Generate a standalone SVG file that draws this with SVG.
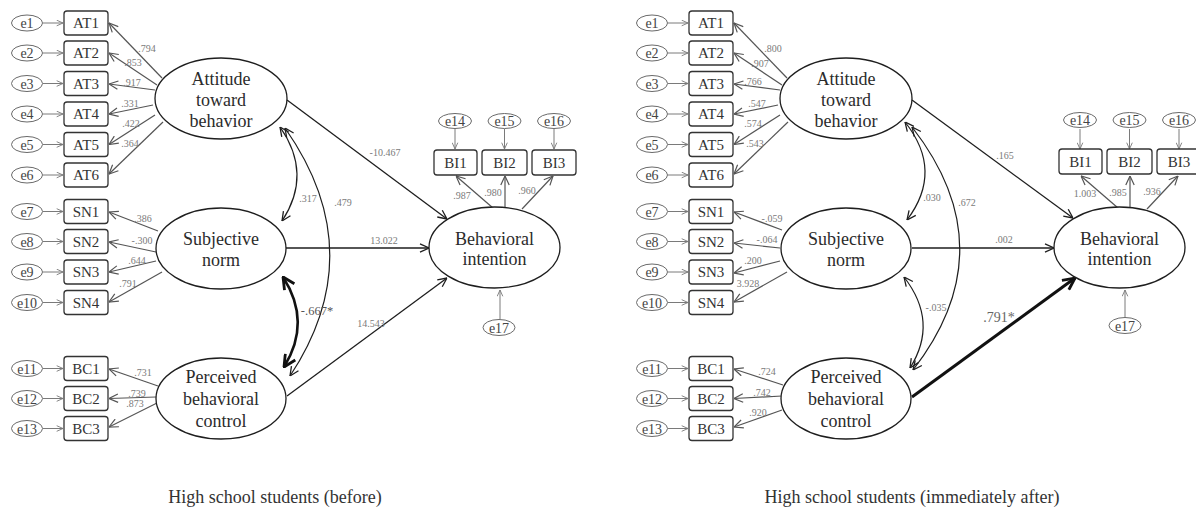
<svg xmlns="http://www.w3.org/2000/svg" width="1196" height="520" viewBox="0 0 1196 520">
<style>
text{font-family:"Liberation Serif","Times New Roman",serif;text-anchor:middle}
.lat{fill:#fff;stroke:#1e1e1e;stroke-width:1.3}
.box{fill:#fff;stroke:#333;stroke-width:1.3}
.err{fill:#fff;stroke:#6a6a6a;stroke-width:1}
.nt{font-size:18px;fill:#2b2b2b}
.bt{font-size:15px;fill:#333}
.et{font-size:14px;fill:#444}
.lb{font-size:10px;fill:#7a7a7a}
.lbb{font-size:12.5px;fill:#555}
.lbx{font-size:14px;fill:#666}
.cap{font-size:18px;fill:#333}
.ea{fill:none;stroke:#7a7a7a;stroke-width:1;marker-end:url(#ag)}
.ld{fill:none;stroke:#555;stroke-width:1.2;marker-end:url(#am)}
.st{fill:none;stroke:#1e1e1e;stroke-width:1.3;marker-end:url(#ad)}
.cv{fill:none;stroke:#1e1e1e;stroke-width:1.2;marker-start:url(#ad);marker-end:url(#ad)}
.cvb{fill:none;stroke:#111;stroke-width:2.6;marker-start:url(#ab);marker-end:url(#ab)}
.stb{fill:none;stroke:#111;stroke-width:3;marker-end:url(#ab)}
</style>
<defs>
<marker id="ag" viewBox="0 0 10 10" refX="10" refY="5" markerWidth="7" markerHeight="7" markerUnits="userSpaceOnUse" orient="auto-start-reverse"><path d="M1,1 L10,5 L1,9" fill="none" stroke="#7a7a7a" stroke-width="1.3"/></marker>
<marker id="am" viewBox="0 0 10 10" refX="10" refY="5" markerWidth="10" markerHeight="10" markerUnits="userSpaceOnUse" orient="auto-start-reverse"><path d="M1,0.8 L10,5 L1,9.2" fill="none" stroke="#555" stroke-width="1.2"/></marker>
<marker id="ad" viewBox="0 0 10 10" refX="10" refY="5" markerWidth="10" markerHeight="10" markerUnits="userSpaceOnUse" orient="auto-start-reverse"><path d="M1,0.8 L10,5 L1,9.2" fill="none" stroke="#1e1e1e" stroke-width="1.3"/></marker>
<marker id="ab" viewBox="0 0 10 10" refX="9.5" refY="5" markerWidth="14" markerHeight="14" markerUnits="userSpaceOnUse" orient="auto-start-reverse"><path d="M1,0.8 L9.5,5 L1,9.2" fill="none" stroke="#111" stroke-width="2"/></marker>
</defs>

<!-- ===== LEFT DIAGRAM ===== -->
<g id="left">
<g id="L-connectors">
<path class="ea" d="M43,23 H63"/><path class="ea" d="M43,53 H63"/><path class="ea" d="M43,83.5 H63"/><path class="ea" d="M43,114 H63"/><path class="ea" d="M43,144.5 H63"/><path class="ea" d="M43,175 H63"/>
<path class="ea" d="M43,211.5 H63"/><path class="ea" d="M43,241.5 H63"/><path class="ea" d="M43,272 H63"/><path class="ea" d="M43,302.5 H63"/>
<path class="ea" d="M43,368.5 H63"/><path class="ea" d="M43,398.5 H63"/><path class="ea" d="M43,428.5 H63"/>
<path class="ld" d="M162,78 L109,23"/><path class="ld" d="M157,85 L109,53"/><path class="ld" d="M155,90 L109,84"/><path class="ld" d="M153,105 L109,114"/><path class="ld" d="M155,115 L109,144.5"/><path class="ld" d="M163,122 L109,174"/>
<path class="ld" d="M158,231 L109,212"/><path class="ld" d="M156,252 L109,242"/><path class="ld" d="M156,261 L109,272"/><path class="ld" d="M162,272 L109,302"/>
<path class="ld" d="M158,386 L109,369"/><path class="ld" d="M156,397 L109,398.5"/><path class="ld" d="M157,403 L109,427"/>
<path class="ld" d="M493,208 L456,176"/><path class="ld" d="M505,207 V176"/><path class="ld" d="M522,209 L553,176"/>
<path class="ea" d="M455,129 V149"/><path class="ea" d="M504.5,129 V149"/><path class="ea" d="M554,129 V149"/>
<path class="ea" d="M500,319 V290"/>
<path class="st" d="M287,100 L447,219"/>
<path class="st" d="M286,248 H429"/>
<path class="st" d="M287,396 L447,278"/>
<path class="cv" d="M280,127 Q313,174 282,221"/>
<path class="cv" d="M285,128 Q372,252 290,376"/>
<path class="cvb" d="M283,277 Q312,322 284,367"/>
<text class="lb" x="147" y="51.5">.794</text><text class="lb" x="133" y="65.5">.853</text><text class="lb" x="132" y="85.5">.917</text><text class="lb" x="130" y="106.5">.331</text><text class="lb" x="131" y="126.5">.422</text><text class="lb" x="130" y="146.5">.364</text>
<text class="lb" x="143" y="221.5">.386</text><text class="lb" x="142" y="243.5">-.300</text><text class="lb" x="137" y="263.5">.644</text><text class="lb" x="128" y="286.5">.791</text>
<text class="lb" x="143" y="375.5">.731</text><text class="lb" x="137" y="396.5">.739</text><text class="lb" x="135" y="406.5">.873</text>
<text class="lb" x="462" y="198.5">.987</text><text class="lb" x="493" y="195.5">.980</text><text class="lb" x="527" y="193.5">.960</text>
<text class="lb" x="385" y="155.5">-10.467</text><text class="lb" x="384" y="243.5">13.022</text><text class="lb" x="371" y="326.5">14.543</text>
<text class="lb" x="308" y="201.5">.317</text><text class="lb" x="343" y="205.5">.479</text><text class="lbb" x="317" y="315">-.667*</text>
</g>
<g id="L-e1"><ellipse class="err" cx="27" cy="23" rx="15.5" ry="8"/><text class="et" x="27" y="28">e1</text></g>
<g id="L-e2"><ellipse class="err" cx="27" cy="53" rx="15.5" ry="8"/><text class="et" x="27" y="58">e2</text></g>
<g id="L-e3"><ellipse class="err" cx="27" cy="83.5" rx="15.5" ry="8"/><text class="et" x="27" y="88.5">e3</text></g>
<g id="L-e4"><ellipse class="err" cx="27" cy="114" rx="15.5" ry="8"/><text class="et" x="27" y="119">e4</text></g>
<g id="L-e5"><ellipse class="err" cx="27" cy="144.5" rx="15.5" ry="8"/><text class="et" x="27" y="149.5">e5</text></g>
<g id="L-e6"><ellipse class="err" cx="27" cy="175" rx="15.5" ry="8"/><text class="et" x="27" y="180">e6</text></g>
<g id="L-e7"><ellipse class="err" cx="27" cy="211.5" rx="15.5" ry="8"/><text class="et" x="27" y="216.5">e7</text></g>
<g id="L-e8"><ellipse class="err" cx="27" cy="241.5" rx="15.5" ry="8"/><text class="et" x="27" y="246.5">e8</text></g>
<g id="L-e9"><ellipse class="err" cx="27" cy="272" rx="15.5" ry="8"/><text class="et" x="27" y="277">e9</text></g>
<g id="L-e10"><ellipse class="err" cx="27" cy="302.5" rx="15.5" ry="8"/><text class="et" x="27" y="307.5">e10</text></g>
<g id="L-e11"><ellipse class="err" cx="27" cy="368.5" rx="15.5" ry="8"/><text class="et" x="27" y="373.5">e11</text></g>
<g id="L-e12"><ellipse class="err" cx="27" cy="398.5" rx="15.5" ry="8"/><text class="et" x="27" y="403.5">e12</text></g>
<g id="L-e13"><ellipse class="err" cx="27" cy="428.5" rx="15.5" ry="8"/><text class="et" x="27" y="433.5">e13</text></g>
<g id="L-AT1"><rect class="box" x="64" y="11" width="44" height="24" rx="3"/><text class="bt" x="86" y="28">AT1</text></g>
<g id="L-AT2"><rect class="box" x="64" y="41" width="44" height="24" rx="3"/><text class="bt" x="86" y="58">AT2</text></g>
<g id="L-AT3"><rect class="box" x="64" y="71.5" width="44" height="24" rx="3"/><text class="bt" x="86" y="88.5">AT3</text></g>
<g id="L-AT4"><rect class="box" x="64" y="102" width="44" height="24" rx="3"/><text class="bt" x="86" y="119">AT4</text></g>
<g id="L-AT5"><rect class="box" x="64" y="132.5" width="44" height="24" rx="3"/><text class="bt" x="86" y="149.5">AT5</text></g>
<g id="L-AT6"><rect class="box" x="64" y="163" width="44" height="24" rx="3"/><text class="bt" x="86" y="180">AT6</text></g>
<g id="L-SN1"><rect class="box" x="64" y="199.5" width="44" height="24" rx="3"/><text class="bt" x="86" y="216.5">SN1</text></g>
<g id="L-SN2"><rect class="box" x="64" y="229.5" width="44" height="24" rx="3"/><text class="bt" x="86" y="246.5">SN2</text></g>
<g id="L-SN3"><rect class="box" x="64" y="260" width="44" height="24" rx="3"/><text class="bt" x="86" y="277">SN3</text></g>
<g id="L-SN4"><rect class="box" x="64" y="290.5" width="44" height="24" rx="3"/><text class="bt" x="86" y="307.5">SN4</text></g>
<g id="L-BC1"><rect class="box" x="64" y="356.5" width="44" height="24" rx="3"/><text class="bt" x="86" y="373.5">BC1</text></g>
<g id="L-BC2"><rect class="box" x="64" y="386.5" width="44" height="24" rx="3"/><text class="bt" x="86" y="403.5">BC2</text></g>
<g id="L-BC3"><rect class="box" x="64" y="416.5" width="44" height="24" rx="3"/><text class="bt" x="86" y="433.5">BC3</text></g>
<g id="L-ATT"><ellipse class="lat" cx="221" cy="98.5" rx="66" ry="40.5"/><text class="nt" x="221" y="85">Attitude</text><text class="nt" x="221" y="106">toward</text><text class="nt" x="221" y="127">behavior</text></g>
<g id="L-SNL"><ellipse class="lat" cx="221" cy="248.5" rx="65" ry="40.5"/><text class="nt" x="221" y="245">Subjective</text><text class="nt" x="221" y="266">norm</text></g>
<g id="L-PBC"><ellipse class="lat" cx="221" cy="398.5" rx="65" ry="40.5"/><text class="nt" x="221" y="383">Perceived</text><text class="nt" x="221" y="405">behavioral</text><text class="nt" x="221" y="427">control</text></g>
<g id="L-BI"><ellipse class="lat" cx="494.5" cy="247.5" rx="65.5" ry="40.5"/><text class="nt" x="494.5" y="245">Behavioral</text><text class="nt" x="494.5" y="265">intention</text></g>
<g id="L-BI1"><rect class="box" x="434" y="150" width="43" height="25" rx="3"/><text class="bt" x="455.5" y="168">BI1</text></g>
<g id="L-BI2"><rect class="box" x="482" y="150" width="45" height="25" rx="3"/><text class="bt" x="504.5" y="168">BI2</text></g>
<g id="L-BI3"><rect class="box" x="532" y="150" width="44" height="25" rx="3"/><text class="bt" x="554" y="168">BI3</text></g>
<g id="L-e14"><ellipse class="err" cx="455" cy="121" rx="16.5" ry="7.5"/><text class="et" x="455" y="126">e14</text></g>
<g id="L-e15"><ellipse class="err" cx="504.5" cy="121" rx="16.5" ry="7.5"/><text class="et" x="504.5" y="126">e15</text></g>
<g id="L-e16"><ellipse class="err" cx="554" cy="121" rx="16.5" ry="7.5"/><text class="et" x="554" y="126">e16</text></g>
<g id="L-e17"><ellipse class="err" cx="499" cy="327.5" rx="16" ry="8"/><text class="et" x="499" y="332.5">e17</text></g>
<text class="cap" x="275" y="503">High school students (before)</text>
</g>

<!-- ===== RIGHT DIAGRAM ===== -->
<g id="right" transform="translate(625,0)">
<g id="R-connectors">
<path class="ea" d="M43,23 H63"/><path class="ea" d="M43,53 H63"/><path class="ea" d="M43,83.5 H63"/><path class="ea" d="M43,114 H63"/><path class="ea" d="M43,144.5 H63"/><path class="ea" d="M43,175 H63"/>
<path class="ea" d="M43,211.5 H63"/><path class="ea" d="M43,241.5 H63"/><path class="ea" d="M43,272 H63"/><path class="ea" d="M43,302.5 H63"/>
<path class="ea" d="M43,368.5 H63"/><path class="ea" d="M43,398.5 H63"/><path class="ea" d="M43,428.5 H63"/>
<path class="ld" d="M162,78 L109,23"/><path class="ld" d="M157,85 L109,53"/><path class="ld" d="M155,90 L109,84"/><path class="ld" d="M153,105 L109,114"/><path class="ld" d="M155,115 L109,144.5"/><path class="ld" d="M163,122 L109,174"/>
<path class="ld" d="M157,230 L109,212"/><path class="ld" d="M155,248 L109,243"/><path class="ld" d="M155,261 L109,273"/><path class="ld" d="M162,272 L109,302"/>
<path class="ld" d="M158,385 L109,369"/><path class="ld" d="M157,396 L109,398.5"/><path class="ld" d="M157,410 L109,427"/>
<path class="ld" d="M493,208 L456,176"/><path class="ld" d="M505,207 V176"/><path class="ld" d="M522,209 L553,176"/>
<path class="ea" d="M455,129 V149"/><path class="ea" d="M504.5,129 V149"/><path class="ea" d="M554,129 V149"/>
<path class="ea" d="M500,318 V290"/>
<path class="st" d="M287,100 L448,218"/>
<path class="st" d="M287,248 H429"/>
<path class="stb" d="M287,397 L450,278"/>
<path class="cv" d="M280,122 Q319,171 282,220"/>
<path class="cv" d="M287,127 Q382,249 288,370"/>
<path class="cv" d="M279,277 Q314,322 285,368"/>
<text class="lb" x="148" y="51.5">.800</text><text class="lb" x="135" y="66.5">.907</text><text class="lb" x="128" y="84.5">.766</text><text class="lb" x="132" y="106.5">.547</text><text class="lb" x="128" y="126.5">.574</text><text class="lb" x="130" y="146.5">.543</text>
<text class="lb" x="147" y="221.5">-.059</text><text class="lb" x="142" y="242.5">-.064</text><text class="lb" x="128" y="263.5">.200</text><text class="lb" x="123" y="286.5">3.928</text>
<text class="lb" x="142" y="374.5">.724</text><text class="lb" x="137" y="395.5">.742</text><text class="lb" x="133" y="415.5">.920</text>
<text class="lb" x="460" y="196.5">1.003</text><text class="lb" x="493" y="195.5">.985</text><text class="lb" x="527" y="194.5">.936</text>
<text class="lb" x="380" y="158.5">.165</text><text class="lb" x="379" y="242.5">.002</text><text class="lbx" x="374" y="322">.791*</text>
<text class="lb" x="307" y="200.5">.030</text><text class="lb" x="342" y="205.5">.672</text><text class="lb" x="311" y="310.5">-.035</text>
</g>
<g id="R-e1"><ellipse class="err" cx="27" cy="23" rx="15.5" ry="8"/><text class="et" x="27" y="28">e1</text></g>
<g id="R-e2"><ellipse class="err" cx="27" cy="53" rx="15.5" ry="8"/><text class="et" x="27" y="58">e2</text></g>
<g id="R-e3"><ellipse class="err" cx="27" cy="83.5" rx="15.5" ry="8"/><text class="et" x="27" y="88.5">e3</text></g>
<g id="R-e4"><ellipse class="err" cx="27" cy="114" rx="15.5" ry="8"/><text class="et" x="27" y="119">e4</text></g>
<g id="R-e5"><ellipse class="err" cx="27" cy="144.5" rx="15.5" ry="8"/><text class="et" x="27" y="149.5">e5</text></g>
<g id="R-e6"><ellipse class="err" cx="27" cy="175" rx="15.5" ry="8"/><text class="et" x="27" y="180">e6</text></g>
<g id="R-e7"><ellipse class="err" cx="27" cy="211.5" rx="15.5" ry="8"/><text class="et" x="27" y="216.5">e7</text></g>
<g id="R-e8"><ellipse class="err" cx="27" cy="241.5" rx="15.5" ry="8"/><text class="et" x="27" y="246.5">e8</text></g>
<g id="R-e9"><ellipse class="err" cx="27" cy="272" rx="15.5" ry="8"/><text class="et" x="27" y="277">e9</text></g>
<g id="R-e10"><ellipse class="err" cx="27" cy="302.5" rx="15.5" ry="8"/><text class="et" x="27" y="307.5">e10</text></g>
<g id="R-e11"><ellipse class="err" cx="27" cy="368.5" rx="15.5" ry="8"/><text class="et" x="27" y="373.5">e11</text></g>
<g id="R-e12"><ellipse class="err" cx="27" cy="398.5" rx="15.5" ry="8"/><text class="et" x="27" y="403.5">e12</text></g>
<g id="R-e13"><ellipse class="err" cx="27" cy="428.5" rx="15.5" ry="8"/><text class="et" x="27" y="433.5">e13</text></g>
<g id="R-AT1"><rect class="box" x="64" y="11" width="44" height="24" rx="3"/><text class="bt" x="86" y="28">AT1</text></g>
<g id="R-AT2"><rect class="box" x="64" y="41" width="44" height="24" rx="3"/><text class="bt" x="86" y="58">AT2</text></g>
<g id="R-AT3"><rect class="box" x="64" y="71.5" width="44" height="24" rx="3"/><text class="bt" x="86" y="88.5">AT3</text></g>
<g id="R-AT4"><rect class="box" x="64" y="102" width="44" height="24" rx="3"/><text class="bt" x="86" y="119">AT4</text></g>
<g id="R-AT5"><rect class="box" x="64" y="132.5" width="44" height="24" rx="3"/><text class="bt" x="86" y="149.5">AT5</text></g>
<g id="R-AT6"><rect class="box" x="64" y="163" width="44" height="24" rx="3"/><text class="bt" x="86" y="180">AT6</text></g>
<g id="R-SN1"><rect class="box" x="64" y="199.5" width="44" height="24" rx="3"/><text class="bt" x="86" y="216.5">SN1</text></g>
<g id="R-SN2"><rect class="box" x="64" y="229.5" width="44" height="24" rx="3"/><text class="bt" x="86" y="246.5">SN2</text></g>
<g id="R-SN3"><rect class="box" x="64" y="260" width="44" height="24" rx="3"/><text class="bt" x="86" y="277">SN3</text></g>
<g id="R-SN4"><rect class="box" x="64" y="290.5" width="44" height="24" rx="3"/><text class="bt" x="86" y="307.5">SN4</text></g>
<g id="R-BC1"><rect class="box" x="64" y="356.5" width="44" height="24" rx="3"/><text class="bt" x="86" y="373.5">BC1</text></g>
<g id="R-BC2"><rect class="box" x="64" y="386.5" width="44" height="24" rx="3"/><text class="bt" x="86" y="403.5">BC2</text></g>
<g id="R-BC3"><rect class="box" x="64" y="416.5" width="44" height="24" rx="3"/><text class="bt" x="86" y="433.5">BC3</text></g>
<g id="R-ATT"><ellipse class="lat" cx="221" cy="98.5" rx="66" ry="40.5"/><text class="nt" x="221" y="85">Attitude</text><text class="nt" x="221" y="106">toward</text><text class="nt" x="221" y="127">behavior</text></g>
<g id="R-SNL"><ellipse class="lat" cx="221" cy="248.5" rx="65" ry="40.5"/><text class="nt" x="221" y="245">Subjective</text><text class="nt" x="221" y="266">norm</text></g>
<g id="R-PBC"><ellipse class="lat" cx="221" cy="398.5" rx="65" ry="40.5"/><text class="nt" x="221" y="383">Perceived</text><text class="nt" x="221" y="405">behavioral</text><text class="nt" x="221" y="427">control</text></g>
<g id="R-BI"><ellipse class="lat" cx="494.5" cy="247.5" rx="65.5" ry="40.5"/><text class="nt" x="494.5" y="245">Behavioral</text><text class="nt" x="494.5" y="265">intention</text></g>
<g id="R-BI1"><rect class="box" x="434" y="149" width="43" height="25" rx="3"/><text class="bt" x="455.5" y="167">BI1</text></g>
<g id="R-BI2"><rect class="box" x="482" y="149" width="45" height="25" rx="3"/><text class="bt" x="504.5" y="167">BI2</text></g>
<g id="R-BI3"><rect class="box" x="532" y="149" width="44" height="25" rx="3"/><text class="bt" x="554" y="167">BI3</text></g>
<g id="R-e14"><ellipse class="err" cx="455" cy="120" rx="16.5" ry="7.5"/><text class="et" x="455" y="125">e14</text></g>
<g id="R-e15"><ellipse class="err" cx="504.5" cy="120" rx="16.5" ry="7.5"/><text class="et" x="504.5" y="125">e15</text></g>
<g id="R-e16"><ellipse class="err" cx="554" cy="120" rx="16.5" ry="7.5"/><text class="et" x="554" y="125">e16</text></g>
<g id="R-e17"><ellipse class="err" cx="500" cy="325.5" rx="16" ry="8"/><text class="et" x="500" y="330.5">e17</text></g>
<text class="cap" x="287" y="503">High school students (immediately after)</text>
</g>
</svg>
